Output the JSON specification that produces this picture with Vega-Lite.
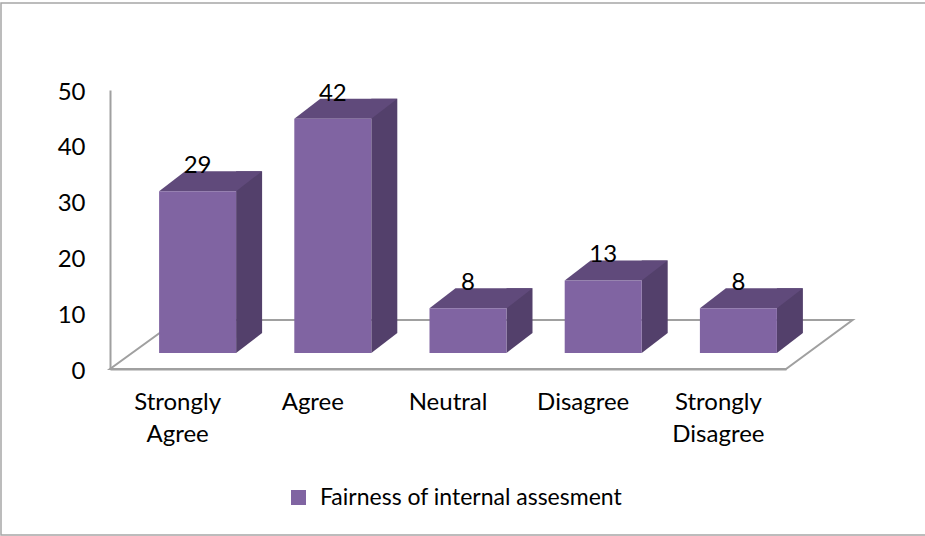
{"$schema":"https://vega.github.io/schema/vega-lite/v6.json",
"width":930,"height":532,"padding":{"left":1,"top":3,"right":0,"bottom":1},"autosize":{"type":"none"},
"background":"white",
"view":{"stroke":"#a6a6a6","strokeWidth":1.5,"fill":"white"},
"config":{"font":"Lato"},
"data":{"values":[
{"category":"Strongly Agree","value":29,"series":"Fairness of internal assesment"},
{"category":"Agree","value":42,"series":"Fairness of internal assesment"},
{"category":"Neutral","value":8,"series":"Fairness of internal assesment"},
{"category":"Disagree","value":13,"series":"Fairness of internal assesment"},
{"category":"Strongly Disagree","value":8,"series":"Fairness of internal assesment"}]},
"encoding":{
"x":{"field":"category","type":"nominal","sort":null,"title":null,
"scale":{"type":"band","range":[109,785],"paddingInner":0,"paddingOuter":0},
"axis":{"orient":"bottom","offset":-166,"domain":true,"domainColor":"#a0a0a0","domainWidth":2,"ticks":false,"labelAngle":0,"labelPadding":33,"labelFontSize":24,"labelColor":"#000000","labelFont":"Lato","labelLimit":0,"labelLineHeight":32,"labelBaseline":"middle","labelExpr":"split(datum.label,' ')"}},
"y":{"field":"value","type":"quantitative","title":null,
"scale":{"domain":[0,50],"range":[366,87],"nice":false,"zero":true},
"axis":{"orient":"left","offset":-109,"domain":true,"domainColor":"#a0a0a0","domainWidth":2,"ticks":false,"grid":false,"values":[0,10,20,30,40,50],"labelPadding":25,"labelFontSize":24,"labelColor":"#000000","labelFont":"Lato","labelOffset":2}}
},
"layer":[
{"transform":[{"filter":"datum.category == 'Strongly Agree'"}],
 "mark":{"type":"point","filled":false,"size":4,"opacity":1,"stroke":"#a0a0a0","strokeWidth":2,"clip":false,
 "shape":"M-67.6 0L608.4 0L675 -49L0 -49Z"},
 "encoding":{"y":{"datum":0,"type":"quantitative"}}},
{"mark":{"type":"bar","width":26,"fill":"#53406B","xOffset":71.5,"yOffset":-36,"y2Offset":-36},
 "encoding":{}},
{"mark":{"type":"point","filled":true,"size":4,"opacity":1,"fill":"#53406B","strokeWidth":0,"xOffset":20,"yOffset":-16,
 "shape":"M38.5 -20L64.5 -20L38.5 0Z"},
 "encoding":{"y":{"datum":0,"type":"quantitative"}}},
{"mark":{"type":"point","filled":true,"size":4,"opacity":1,"fill":"#604A7B","strokeWidth":0,"xOffset":20,"yOffset":-16,
 "shape":"M-38.5 0L38.5 0L64.5 -20L-12.5 -20Z"}},
{"mark":{"type":"bar","width":77,"xOffset":20,"yOffset":-16,"y2Offset":-16},
 "encoding":{"color":{"field":"series","type":"nominal","title":null,
 "scale":{"range":["#8064A2"]},
 "legend":{"orient":"none","legendX":286,"legendY":483,"symbolType":"square","symbolSize":225,"symbolStrokeWidth":0,"labelFontSize":23,"labelColor":"#000000","labelFont":"Lato","labelLimit":0,"labelOffset":10}}}},
{"mark":{"type":"text","fontSize":24,"font":"Lato","color":"#000000","xOffset":20,"yOffset":-41,"baseline":"middle"},
 "encoding":{"text":{"field":"value","type":"quantitative"}}}
]}
